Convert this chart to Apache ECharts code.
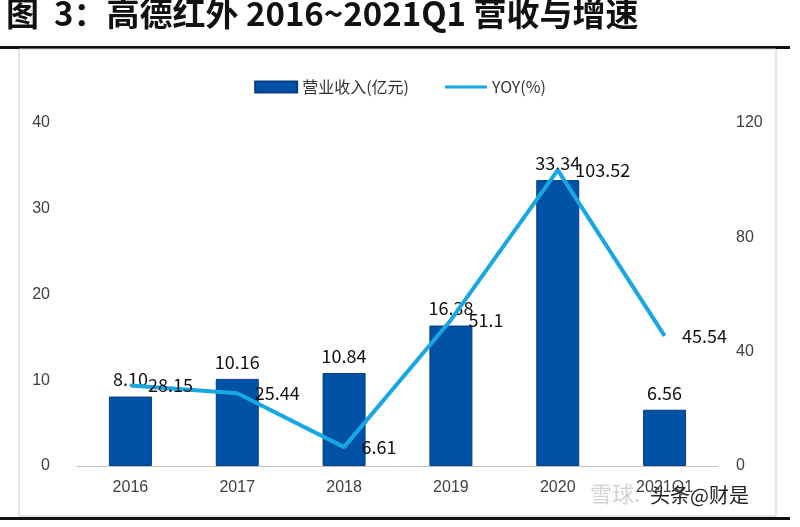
<!DOCTYPE html>
<html><head><meta charset="utf-8">
<script src="https://cdn.jsdelivr.net/npm/echarts@6/dist/echarts.min.js"></script>
<style>html,body{margin:0;padding:0;background:#fff}#c{width:800px;height:527px}</style>
</head><body><div id="c"></div>
<script>
const categories = ['2016','2017','2018','2019','2020','2021Q1'];
const revenue = [8.10, 10.16, 10.84, 16.38, 33.34, 6.56];
const yoy = [28.15, 25.44, 6.61, 51.1, 103.52, 45.54];
const leftTicks = [0, 10, 20, 30, 40];
const rightTicks = [0, 40, 80, 120];
const titleText = '图  3：高德红外 2016~2021Q1 营收与增速';

const chart = echarts.init(document.getElementById('c'), null, {renderer:'canvas'});
const labelFont = {color:'#111', fontSize:18, fontFamily:'"Noto Sans CJK SC", sans-serif'};
const axisFont = {color:'#404040', fontSize:16, fontFamily:'"Liberation Sans", Arial, sans-serif'};
chart.setOption({
  backgroundColor:'#fff',
  animation:false,
  graphic:[
    {type:'text', left:6, top:-3, style:{text:titleText, fontSize:33, fontWeight:'bold', fontFamily:'"Noto Sans CJK SC", serif', fill:'#111'}},
    {type:'rect', shape:{x:0,y:46,width:790,height:3}, style:{fill:'#111'}},
    {type:'rect', shape:{x:19,y:49,width:757,height:467}, style:{fill:'none', stroke:'#c8c8c8', lineWidth:1}},
    {type:'rect', shape:{x:0,y:517,width:790,height:3}, style:{fill:'#111'}},
    {type:'text', left:590, top:483, style:{text:'雪球:', fontSize:22, fontFamily:'"Noto Sans CJK SC", sans-serif', fill:'rgba(180,180,180,0.6)'}},
    {type:'text', left:650, top:485, style:{text:'头条@财是', fontSize:20, fontFamily:'"Noto Sans CJK SC", sans-serif', fill:'#222'}}
  ],
  legend:{
    top:74, left:'center',
    itemGap:36,
    textStyle:{fontSize:16, color:'#333', fontFamily:'"Noto Sans CJK SC", sans-serif'},
    data:[
      {name:'营业收入(亿元)', icon:'rect', itemStyle:{color:'#0052A6'}},
      {name:'YOY(%)', icon:'path://M0,0 L40,0 L40,3 L0,3 Z', itemStyle:{color:'#17A7E2'}}
    ],
    itemWidth:42, itemHeight:11
  },
  grid:{left:77, right:82, top:123, bottom:61, containLabel:false},
  xAxis:{
    type:'category', data:categories,
    axisLine:{lineStyle:{color:'#c0c0c0'}},
    axisTick:{show:false},
    axisLabel:{...axisFont, margin:14}
  },
  yAxis:[
    {type:'value', min:leftTicks[0], max:leftTicks[leftTicks.length-1], interval:10,
     splitLine:{show:false}, axisLine:{show:false}, axisTick:{show:false},
     axisLabel:{...axisFont, margin:27}},
    {type:'value', min:rightTicks[0], max:rightTicks[rightTicks.length-1], interval:40,
     splitLine:{show:false}, axisLine:{show:false}, axisTick:{show:false},
     axisLabel:{...axisFont, margin:18}}
  ],
  series:[
    {name:'营业收入(亿元)', type:'bar', data:revenue, barWidth:43,
     itemStyle:{color:'#0052A6', borderColor:'#0A3D80', borderWidth:1},
     label:{show:true, position:'top', distance:8, ...labelFont,
       formatter:p=>p.value.toFixed(2)}},
    {name:'YOY(%)', type:'line', yAxisIndex:1, data:yoy,
     symbol:'circle', symbolSize:1, showSymbol:true,
     lineStyle:{color:'#17A7E2', width:4}, itemStyle:{color:'#17A7E2'},
     label:{show:true, position:'right', distance:17, ...labelFont}}
  ]
});
</script></body></html>
